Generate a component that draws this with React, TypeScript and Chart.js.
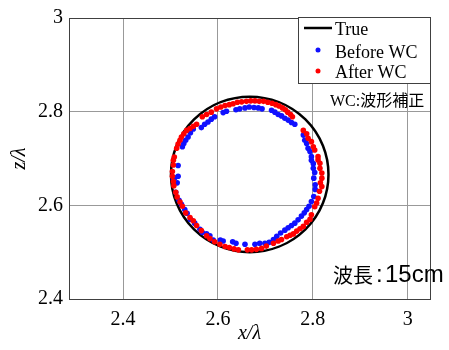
import React, { useEffect, useRef } from "react";
import { Chart, registerables } from "chart.js";
Chart.register(...registerables);

const xTickValues = [2.4, 2.6, 2.8, 3];
const xTickLabels = ["2.4", "2.6", "2.8", "3"];
const yTickValues = [2.4, 2.6, 2.8, 3];
const yTickLabels = ["2.4", "2.6", "2.8", "3"];
const xRange = [2.286, 3.047];
const yRange = [2.4, 3];

const trueCenter = [2.667, 2.666];
const trueRadius = 0.166;

const seriesNames = ["True", "Before WC", "After WC"];
const noteText = "WC:波形補正";
const wavelengthLabel = "波長";
const wavelengthValue = "15cm";

const beforeX = [
  2.618, 2.611, 2.638, 2.646, 2.657, 2.666, 2.676, 2.685, 2.693, 2.713, 2.720, 2.727, 2.734, 2.741, 2.748, 2.755, 2.762,
  2.780, 2.783, 2.787, 2.790, 2.794, 2.797, 2.797, 2.801, 2.801, 2.804, 2.802, 2.805, 2.805, 2.802, 2.797, 2.792, 2.787,
  2.782, 2.776, 2.769, 2.762, 2.755, 2.748, 2.741, 2.732, 2.724, 2.717, 2.708, 2.699, 2.688, 2.678,
  2.657, 2.638, 2.631, 2.611, 2.605, 2.590, 2.583, 2.576, 2.567, 2.562, 2.551, 2.542, 2.535, 2.530, 2.523, 2.518, 2.511,
  2.514, 2.506, 2.509, 2.516, 2.516,
  2.525, 2.528, 2.532, 2.537, 2.542, 2.548, 2.565, 2.572, 2.579, 2.586, 2.593,
];
const beforeY = [
  2.801, 2.798, 2.804, 2.806, 2.808, 2.810, 2.809, 2.808, 2.806, 2.803, 2.799, 2.794, 2.791, 2.786, 2.782, 2.777, 2.773,
  2.750, 2.739, 2.732, 2.722, 2.715, 2.704, 2.696, 2.689, 2.679, 2.670, 2.658, 2.644, 2.634, 2.619, 2.608, 2.598, 2.591,
  2.584, 2.577, 2.569, 2.562, 2.557, 2.552, 2.547, 2.541, 2.534, 2.527, 2.521, 2.519, 2.519, 2.517,
  2.517, 2.519, 2.522, 2.524, 2.526, 2.526, 2.535, 2.539, 2.542, 2.549, 2.562, 2.570, 2.583, 2.591, 2.602, 2.611, 2.628,
  2.648, 2.655, 2.659, 2.662, 2.685,
  2.725, 2.732, 2.739, 2.746, 2.755, 2.763, 2.766, 2.773, 2.778, 2.784, 2.789,
];

const afterX = [
  2.586, 2.597, 2.606, 2.615, 2.624, 2.632, 2.641, 2.650, 2.660, 2.669, 2.678, 2.687, 2.696, 2.705, 2.714, 2.722, 2.729,
  2.736, 2.742, 2.747, 2.753, 2.757,
  2.780, 2.787, 2.790, 2.797, 2.801, 2.804, 2.811, 2.811, 2.815, 2.815, 2.819, 2.819, 2.816, 2.819, 2.814, 2.811, 2.808,
  2.804, 2.797, 2.794, 2.787, 2.780, 2.773, 2.766, 2.759, 2.752, 2.745, 2.734, 2.727, 2.717, 2.702, 2.692, 2.681, 2.671,
  2.662,
  2.643, 2.634, 2.624, 2.615, 2.604, 2.593, 2.583, 2.576, 2.565, 2.555, 2.548, 2.541, 2.532, 2.525, 2.520, 2.514, 2.511,
  2.507, 2.506, 2.504, 2.504, 2.506, 2.506, 2.508, 2.513, 2.516, 2.520, 2.523, 2.528, 2.534, 2.541, 2.548, 2.555, 2.567,
  2.576,
];
const afterY = [
  2.799, 2.806, 2.810, 2.813, 2.815, 2.817, 2.820, 2.821, 2.822, 2.823, 2.823, 2.822, 2.822, 2.820, 2.818, 2.815, 2.812,
  2.808, 2.804, 2.799, 2.794, 2.789,
  2.760, 2.753, 2.743, 2.736, 2.725, 2.718, 2.704, 2.697, 2.690, 2.679, 2.669, 2.658, 2.648, 2.640, 2.630, 2.615, 2.605,
  2.597, 2.580, 2.570, 2.564, 2.555, 2.550, 2.545, 2.539, 2.536, 2.533, 2.527, 2.524, 2.519, 2.513, 2.508, 2.506, 2.505,
  2.505,
  2.505, 2.507, 2.510, 2.512, 2.517, 2.522, 2.529, 2.535, 2.546, 2.557, 2.567, 2.574, 2.584, 2.598, 2.607, 2.618, 2.628,
  2.642, 2.651, 2.662, 2.672, 2.686, 2.696, 2.703, 2.722, 2.731, 2.739, 2.746, 2.753, 2.760, 2.764, 2.769, 2.773, 2.789,
  2.794,
];

const BLUE = "#1010ff";
const RED = "#ff0000";
const SERIF = '"Liberation Serif", "Times New Roman", "Noto Sans CJK JP", serif';
const CJK = '"Noto Sans CJK JP", "Liberation Sans", sans-serif';
const SANS = '"Liberation Sans", Arial, sans-serif';

const decorPlugin = {
  id: "decor",
  beforeDatasetsDraw(chart: any) {
    const { ctx, chartArea, scales } = chart;
    const xs = scales.x;
    const ys = scales.y;
    const cx = xs.getPixelForValue(trueCenter[0]);
    const cy = ys.getPixelForValue(trueCenter[1]);
    const rx = xs.getPixelForValue(trueCenter[0] + trueRadius) - cx;
    const ry = cy - ys.getPixelForValue(trueCenter[1] + trueRadius);
    ctx.save();
    ctx.strokeStyle = "#404040";
    ctx.lineWidth = 1;
    ctx.strokeRect(chartArea.left + 0.5, chartArea.top + 0.5, chartArea.right - chartArea.left, chartArea.bottom - chartArea.top);
    ctx.beginPath();
    ctx.ellipse(cx, cy, rx, ry, 0, 0, Math.PI * 2);
    ctx.strokeStyle = "#000";
    ctx.lineWidth = 2.5;
    ctx.stroke();
    ctx.restore();
  },
  afterDatasetsDraw(chart: any) {
    const { ctx, chartArea } = chart;
    const right = chartArea.right;
    const top = chartArea.top;
    ctx.save();
    const lx = right - 132;
    const ly = top - 1;
    ctx.fillStyle = "#fff";
    ctx.fillRect(lx, ly, 132, 66);
    ctx.strokeStyle = "#404040";
    ctx.lineWidth = 1;
    ctx.strokeRect(lx + 0.5, ly + 0.5, 132, 66);
    ctx.fillStyle = "#000";
    ctx.font = `18px ${SERIF}`;
    ctx.textBaseline = "middle";
    ctx.textAlign = "left";
    ctx.beginPath();
    ctx.moveTo(lx + 6, ly + 11);
    ctx.lineTo(lx + 34, ly + 11);
    ctx.strokeStyle = "#000";
    ctx.lineWidth = 2.5;
    ctx.stroke();
    ctx.fillText(seriesNames[0], lx + 37, ly + 13);
    ctx.beginPath();
    ctx.arc(lx + 20, ly + 33, 2.5, 0, Math.PI * 2);
    ctx.fillStyle = BLUE;
    ctx.fill();
    ctx.fillStyle = "#000";
    ctx.fillText(seriesNames[1], lx + 37, ly + 36);
    ctx.beginPath();
    ctx.arc(lx + 20, ly + 54, 2.5, 0, Math.PI * 2);
    ctx.fillStyle = RED;
    ctx.fill();
    ctx.fillStyle = "#000";
    ctx.fillText(seriesNames[2], lx + 37, ly + 56);
    ctx.font = `16px ${SERIF}`;
    ctx.fillText(noteText, right - 100, top + 84);
    ctx.font = `20px ${CJK}`;
    ctx.fillText(wavelengthLabel, right - 97, top + 257);
    ctx.font = `24px ${SANS}`;
    ctx.fillText(":", right - 54, top + 257);
    ctx.fillText(wavelengthValue, right - 45, top + 257);
    ctx.restore();
  },
};

export default function App() {
  const ref = useRef<HTMLCanvasElement | null>(null);
  useEffect(() => {
    if (!ref.current) return;
    const tickFont = { family: SERIF, size: 20 };
    const titleFont = { family: SERIF, size: 20, style: "italic" };
    const chart = new Chart(ref.current, {
      type: "scatter",
      data: {
        datasets: [
          {
            label: seriesNames[2],
            data: afterX.map((x, i) => ({ x, y: afterY[i] })),
            backgroundColor: RED,
            borderColor: RED,
            pointRadius: 2.8,
            borderWidth: 0,
          },
          {
            label: seriesNames[1],
            data: beforeX.map((x, i) => ({ x, y: beforeY[i] })),
            backgroundColor: BLUE,
            borderColor: BLUE,
            pointRadius: 2.8,
            borderWidth: 0,
          },
        ],
      },
      options: {
        animation: false,
        responsive: false,
        layout: { padding: { top: 15, right: 19, bottom: 0, left: 0 } },
        plugins: { legend: { display: false }, tooltip: { enabled: false } },
        scales: {
          x: {
            type: "linear",
            min: xRange[0],
            max: xRange[1],
            afterBuildTicks: (s: any) => {
              s.ticks = xTickValues.map((v) => ({ value: v }));
            },
            afterFit: (s: any) => {
              s.height = 51;
            },
            grid: { color: "#999", drawTicks: false, lineWidth: 1 },
            border: { display: false },
            ticks: {
              font: tickFont,
              color: "#000",
              padding: 9,
              callback: (_v: any, i: number) => xTickLabels[i],
            },
            title: {
              display: true,
              text: "x/λ",
              font: titleFont,
              color: "#000",
              padding: { top: 0, bottom: 4 },
            },
          },
          y: {
            type: "linear",
            min: yRange[0],
            max: yRange[1],
            afterBuildTicks: (s: any) => {
              s.ticks = yTickValues.map((v) => ({ value: v }));
            },
            afterFit: (s: any) => {
              s.width = 69;
            },
            grid: { color: "#999", drawTicks: false, lineWidth: 1 },
            border: { display: false },
            ticks: {
              font: tickFont,
              color: "#000",
              padding: 6,
              callback: (_v: any, i: number) => yTickLabels[i],
            },
            title: {
              display: true,
              text: "z/λ",
              font: titleFont,
              color: "#000",
              padding: { top: 8, bottom: 0 },
            },
          },
        },
      },
      plugins: [decorPlugin],
    } as any);
    return () => chart.destroy();
  }, []);
  return (
    <div style={{ position: "absolute", left: 0, top: 0, width: 449, height: 350, background: "#fff" }}>
      <canvas ref={ref} width={449} height={350} />
    </div>
  );
}
